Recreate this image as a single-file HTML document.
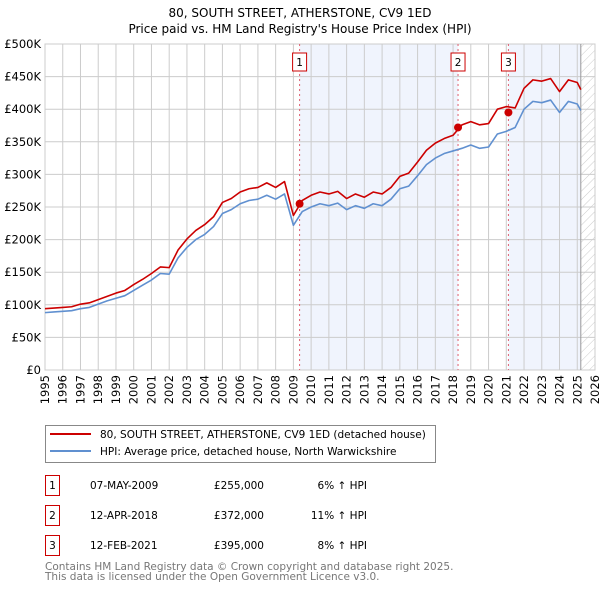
<!DOCTYPE html>
<html><head><meta charset="utf-8"><style>
body{margin:0;background:#fff;}
svg{display:block;font-family:"DejaVu Sans","Liberation Sans",sans-serif;}
</style></head><body>
<svg id="c" width="600" height="590" viewBox="0 0 600 590">
<defs><pattern id="hatch" width="6" height="6" patternUnits="userSpaceOnUse" patternTransform="rotate(45)"><line x1="0" y1="0" x2="0" y2="6" stroke="#ccc" stroke-width="1"/></pattern></defs>
<text x="300" y="17" text-anchor="middle" font-size="12" fill="#000">80, SOUTH STREET, ATHERSTONE, CV9 1ED</text>
<text x="300" y="33" text-anchor="middle" font-size="12" fill="#000">Price paid vs. HM Land Registry's House Price Index (HPI)</text>
<g id="plot"></g>
<g>
<rect x="45.5" y="425.5" width="390" height="37" fill="#fff" stroke="#888"/>
<line x1="50" y1="434" x2="91" y2="434" stroke="#cc0000" stroke-width="2"/>
<text x="100" y="438" font-size="10.5">80, SOUTH STREET, ATHERSTONE, CV9 1ED (detached house)</text>
<line x1="50" y1="451" x2="91" y2="451" stroke="#6090d0" stroke-width="2"/>
<text x="100" y="455" font-size="10.5">HPI: Average price, detached house, North Warwickshire</text>
</g>
<g font-size="10.5">
<rect x="45.5" y="475.5" width="14" height="20" fill="#fff" stroke="#cc0000"/><text x="52.5" y="489" text-anchor="middle">1</text>
<text x="90" y="489">07-MAY-2009</text><text x="264" y="489" text-anchor="end">£255,000</text><text x="367" y="489" text-anchor="end">6% ↑ HPI</text>
<rect x="45.5" y="505.5" width="14" height="20" fill="#fff" stroke="#cc0000"/><text x="52.5" y="519" text-anchor="middle">2</text>
<text x="90" y="519">12-APR-2018</text><text x="264" y="519" text-anchor="end">£372,000</text><text x="367" y="519" text-anchor="end">11% ↑ HPI</text>
<rect x="45.5" y="535.5" width="14" height="20" fill="#fff" stroke="#cc0000"/><text x="52.5" y="549" text-anchor="middle">3</text>
<text x="90" y="549">12-FEB-2021</text><text x="264" y="549" text-anchor="end">£395,000</text><text x="367" y="549" text-anchor="end">8% ↑ HPI</text>
</g>
<text x="45" y="570" font-size="10.5" fill="#777">Contains HM Land Registry data © Crown copyright and database right 2025.</text>
<text x="45" y="580" font-size="10.5" fill="#777">This data is licensed under the Open Government Licence v3.0.</text>
</svg>
<script>
const years=[1995,1995.5,1996,1996.5,1997,1997.5,1998,1998.5,1999,1999.5,2000,2000.5,2001,2001.5,2002,2002.5,2003,2003.5,2004,2004.5,2005,2005.5,2006,2006.5,2007,2007.5,2008,2008.5,2009,2009.5,2010,2010.5,2011,2011.5,2012,2012.5,2013,2013.5,2014,2014.5,2015,2015.5,2016,2016.5,2017,2017.5,2018,2018.5,2019,2019.5,2020,2020.5,2021,2021.5,2022,2022.5,2023,2023.5,2024,2024.5,2025,2025.2];
const hpiValues=[88,89,90,91,94,96,101,106,110,114,122,130,138,148,147,172,188,200,208,220,240,246,255,260,262,268,262,270,222,243,250,255,252,256,246,252,248,255,252,262,278,282,298,315,325,332,336,340,345,340,342,362,366,372,400,412,410,414,395,412,408,398];
const priceValues=[94,95,96,97,101,103,108,113,118,122,131,139,148,158,157,184,201,214,223,235,257,263,273,278,280,287,280,289,237,260,268,273,270,274,263,270,265,273,270,280,297,302,319,337,348,355,360,376,381,376,378,400,404,402,432,445,443,447,427,445,441,430];
const saleYears=[2009.35,2018.28,2021.12];
const salePrices=[255,372,395];
const saleLabels=["1","2","3"];
const yTicks=[0,50,100,150,200,250,300,350,400,450,500];
const yTickLabels=["£0","£50K","£100K","£150K","£200K","£250K","£300K","£350K","£400K","£450K","£500K"];
const xTicks=[1995,1996,1997,1998,1999,2000,2001,2002,2003,2004,2005,2006,2007,2008,2009,2010,2011,2012,2013,2014,2015,2016,2017,2018,2019,2020,2021,2022,2023,2024,2025,2026];

const L=45,R=595,T=44,B=370,X0=1995,X1=2026,Ymax=500;
const xs=v=>L+(v-X0)/(X1-X0)*(R-L);
const ys=v=>B-v/Ymax*(B-T);
const NS="http://www.w3.org/2000/svg";
const g=document.getElementById('plot');
function mk(t,a){const e=document.createElementNS(NS,t);for(const k in a)e.setAttribute(k,a[k]);g.appendChild(e);return e;}
let e=mk('rect',{x:xs(saleYears[0]),y:T,width:xs(saleYears[1])-xs(saleYears[0]),height:B-T,fill:'#f0f4fd'});


e=mk('rect',{x:xs(saleYears[2]),y:T,width:xs(2025.2)-xs(saleYears[2]),height:B-T,fill:'#f0f4fd'});


e=mk('rect',{x:xs(2025.2),y:T,width:R-xs(2025.2),height:B-T,fill:'url(#hatch)'});


xTicks.forEach((t,i)=>{
 let l=mk('line',{x1:xs(t),x2:xs(t),y1:T,y2:B,stroke:'#ccc','stroke-width':1});
 
 
 let tx=mk('text',{x:0,y:0,'text-anchor':'end','font-size':'11.5',transform:'translate('+(xs(t)+4)+','+(B+5)+') rotate(-90)'});tx.textContent=t;
 
 
});
yTicks.forEach((t,i)=>{
 let l=mk('line',{x1:L,x2:R,y1:ys(t),y2:ys(t),stroke:'#ccc','stroke-width':1});
 
 
 let tx=mk('text',{x:L-4,y:ys(t)+4,'text-anchor':'end','font-size':'11.5'});tx.textContent=yTickLabels[i];
 
 
});
e=mk('rect',{x:L,y:T,width:R-L,height:B-T,fill:'none',stroke:'#ccc'});


e=mk('line',{x1:xs(2025.2),x2:xs(2025.2),y1:T,y2:B,stroke:'#999'});


saleYears.forEach((s,i)=>{
 let l=mk('line',{x1:xs(s),x2:xs(s),y1:T,y2:B,stroke:'#e06070','stroke-dasharray':'2,3'});
 
 
 let r=mk('rect',{x:xs(s)-7,y:53,width:14,height:18,fill:'#fff',stroke:'#cc0000'});
 
 
 let t=mk('text',{x:xs(s),y:66,'text-anchor':'middle','font-size':'10.5'});t.textContent=saleLabels[i];
 
 
});
function line(vals,col,name){
 const p=mk('polyline',{points:years.map((y,i)=>xs(y)+','+ys(vals[i])).join(' '),fill:'none',stroke:col,'stroke-width':1.6,'stroke-linejoin':'round'});
 
 
}
line(hpiValues,'#6090d0','hpi-line');
line(priceValues,'#cc0000','price-paid-line');
saleYears.forEach((s,i)=>{
 const c=mk('circle',{cx:xs(s),cy:ys(salePrices[i]),r:4,fill:'#cc0000'});
 
 
});
</script>
</body></html>
